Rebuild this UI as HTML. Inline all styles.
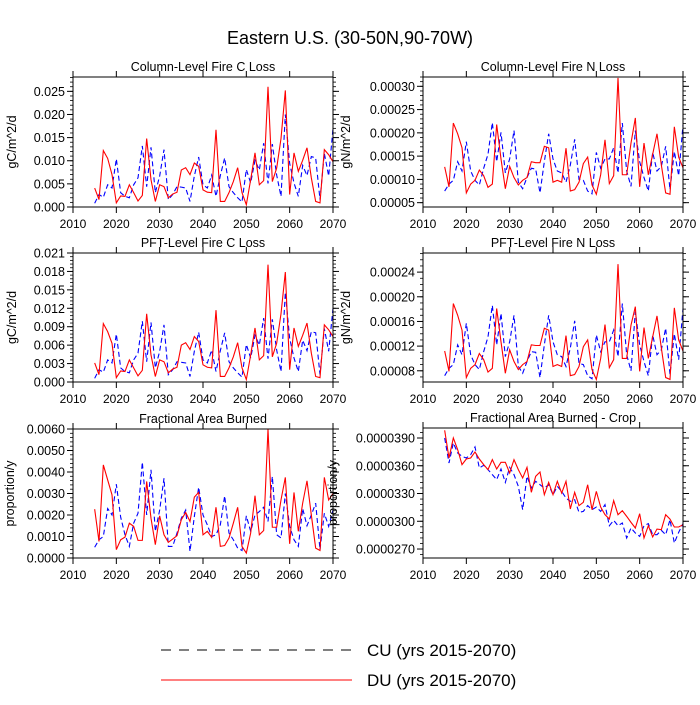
<!DOCTYPE html>
<html><head><meta charset="utf-8"><style>
body{margin:0;background:#fff}
svg text{font-family:"Liberation Sans",Arial,sans-serif;fill:#000}
</style></head><body>
<svg id="chart" width="700" height="700" viewBox="0 0 700 700" xmlns="http://www.w3.org/2000/svg">
<text x="350" y="44" text-anchor="middle" font-size="18">Eastern U.S. (30-50N,90-70W)</text>
<g id="panels"></g>
<g>
<line x1="161" y1="650" x2="352" y2="650" stroke="#000" stroke-width="1" stroke-dasharray="10,8"/>
<text x="367" y="656" font-size="17">CU (yrs 2015-2070)</text>
<line x1="161" y1="680" x2="352" y2="680" stroke="#ff0000" stroke-width="1"/>
<text x="367" y="686" font-size="17">DU (yrs 2015-2070)</text>
</g>
</svg>
<script>
const years = [];
for (let y = 2015; y <= 2070; y++) years.push(y);
const xTicks = [2010,2020,2030,2040,2050,2060,2070];

const colCBlue = [8,27,21,48,41,104,31,23,20,48,63,132,44,129,31,67,124,16,27,44,43,41,12,67,108,48,41,69,23,68,106,44,31,20,11,81,52,101,80,138,51,136,69,23,200,94,52,23,90,68,109,106,16,116,67,170];
const colCRed = [41,16,122,105,70,9,24,23,48,31,13,25,148,59,12,48,44,20,28,32,80,85,70,95,88,37,32,31,167,12,12,31,55,85,31,5,59,117,48,57,260,55,84,148,252,27,117,77,101,128,63,12,9,124,113,98];
const colNBlue = [75,90,98,138,118,181,118,98,88,124,154,222,138,201,114,144,205,94,80,104,124,122,71,138,198,144,118,114,94,131,186,100,98,75,69,158,124,144,144,168,114,221,118,85,205,138,104,75,158,118,128,171,78,160,108,217];
const colNRed = [127,84,221,198,168,71,90,98,120,108,83,90,218,144,80,128,104,88,98,104,138,136,136,171,168,94,98,94,167,75,78,94,134,148,88,68,110,185,91,108,318,110,110,178,232,84,178,110,154,198,131,71,68,213,148,125];
const pftCBlue = [6,20,16,36,31,78,23,17,15,36,47,99,33,97,23,50,93,12,20,33,32,31,9,50,81,36,31,52,17,51,80,33,23,15,8,61,39,76,60,104,38,102,52,17,146,71,39,17,68,51,82,80,12,87,50,120];
const pftCRed = [31,12,95,82,63,7,18,17,36,23,10,19,111,44,9,36,33,15,21,24,60,64,53,74,66,28,24,23,117,9,9,23,41,64,23,4,44,88,36,43,191,41,63,111,179,20,88,58,76,96,47,9,7,93,85,74];
const pftNBlue = [72,84,90,122,106,157,106,90,82,111,135,186,122,173,103,127,170,87,76,95,111,110,69,122,170,127,106,103,87,117,161,92,90,72,67,138,111,127,127,146,103,189,106,80,176,122,95,72,138,106,114,149,74,140,98,181];
const pftNRed = [112,79,189,170,146,69,84,90,108,98,78,84,181,127,76,114,95,82,90,95,122,121,121,149,146,87,90,87,137,72,74,87,119,130,82,66,100,155,85,98,253,100,100,154,184,79,150,100,135,169,117,69,66,182,130,112];
const areaBlue = [5,8.5,10,23,20,34.3,19,10.8,5.4,16.2,20.8,44.6,20,41,12.4,22.3,37.1,5.4,5.4,11.6,18.5,22.3,3.1,19.3,32.9,20,15.4,10,10.8,15.4,28.9,11.6,8.5,4.6,3.5,19.6,12.4,20,21.6,23.6,17,37.9,10.8,9.3,30,14.7,8.5,5.4,23,15,20,25.5,3.9,20.8,14.7,22.3];
const areaRed = [22.7,7.7,43.3,36.3,29.4,3.9,8.5,9.7,16.2,14.7,8.2,8.2,35.6,18.5,6.2,19.6,10.8,7.3,8.8,10.4,17.8,21.2,17,28.3,30.5,10.8,12.4,9.6,23.6,5.4,5.8,9.3,16.2,23.6,5.4,2.3,11.6,29,10.8,12.8,60,14.3,14.3,27,37.5,6.6,30.5,12.4,25.5,35.9,20,4.6,3.5,37.5,27,30];
const cropBlue = [39.0,36.3,38.46,37.38,37.02,36.84,37.2,38.03,35.76,36.05,35.58,35.04,34.5,35.65,34.2,35.83,35.04,33.77,31.25,34.86,33.59,34.32,33.95,33.59,33.95,32.87,33.77,33.23,32.51,32.15,32.33,30.96,31.07,31.69,31.25,31.54,31.07,31.79,29.52,30.1,29.52,29.81,28.19,29.27,28.73,28.37,29.52,29.74,28.55,28.55,29.02,28.55,30.17,27.65,28.8,29.74];
const cropRed = [39.83,36.84,39.0,37.74,36.12,36.73,36.84,37.49,36.73,36.12,35.58,36.66,35.65,36.37,36.37,35.22,36.66,35.58,34.68,35.83,33.13,34.86,35.32,32.87,34.2,32.87,34.32,33.05,34.32,31.33,33.13,31.69,32.05,33.95,31.25,33.23,31.54,30.71,30.24,32.23,30.71,31.14,30.53,29.88,29.27,30.82,28.19,29.52,28.3,29.16,29.09,30.71,30.24,29.38,29.38,29.63];

const yTicks1 = ["0.000","0.005","0.010","0.015","0.020","0.025"];
const yTicks2 = ["0.00005","0.00010","0.00015","0.00020","0.00025","0.00030"];
const yTicks3 = ["0.000","0.003","0.006","0.009","0.012","0.015","0.018","0.021"];
const yTicks4 = ["0.00008","0.00012","0.00016","0.00020","0.00024"];
const yTicks5 = ["0.0000","0.0010","0.0020","0.0030","0.0040","0.0050","0.0060"];
const yTicks6 = ["0.0000270","0.0000300","0.0000330","0.0000360","0.0000390"];

const NS = "http://www.w3.org/2000/svg";
const root = document.getElementById('panels');
function mk(tag, attrs, parent){const e=document.createElementNS(NS,tag);for(const k in attrs)e.setAttribute(k,attrs[k]);(parent||root).appendChild(e);return e;}

const panels = [
 {id:'column-c',title:'Column-Level Fire C Loss',yt:'gC/m^2/d',x0:73,top:77,bot:207,ymin:0,ymax:0.0281,scale:1e-4,blue:colCBlue,red:colCRed,ticks:yTicks1,minor:0.001,ytx:16},
 {id:'column-n',title:'Column-Level Fire N Loss',yt:'gN/m^2/d',x0:423,top:77,bot:207,ymin:0.0000407,ymax:0.00032,scale:1e-6,blue:colNBlue,red:colNRed,ticks:yTicks2,minor:0.00001,ytx:350},
 {id:'pft-c',title:'PFT-Level Fire C Loss',yt:'gC/m^2/d',x0:73,top:253,bot:382,ymin:0,ymax:0.021,scale:1e-4,blue:pftCBlue,red:pftCRed,ticks:yTicks3,minor:0.0006,ytx:16},
 {id:'pft-n',title:'PFT-Level Fire N Loss',yt:'gN/m^2/d',x0:423,top:253,bot:382,ymin:0.0000618,ymax:0.000271,scale:1e-6,blue:pftNBlue,red:pftNRed,ticks:yTicks4,minor:0.00001,ytx:350},
 {id:'area',title:'Fractional Area Burned',yt:'proportion/y',x0:73,top:429,bot:558,ymin:0,ymax:0.006,scale:1e-4,blue:areaBlue,red:areaRed,ticks:yTicks5,minor:0.0002,ytx:14},
 {id:'area-crop',title:'Fractional Area Burned - Crop',yt:'proportion/y',x0:423,top:428,bot:558,ymin:0.00002603,ymax:0.00004008,scale:1e-6,blue:cropBlue,red:cropRed,ticks:yTicks6,minor:0.0000006,ytx:337}
];
const W = 260;
panels.forEach(p=>{
  const g = mk('g',{});
  
  
  const xs = v => p.x0 + (v-2010)/60*W;
  const ys = v => p.bot - (v-p.ymin)/(p.ymax-p.ymin)*(p.bot-p.top);
  const t = mk('text',{x:p.x0+W/2,y:p.top-6,'text-anchor':'middle','font-size':'12.5'},g);
  t.textContent = p.title;
  
  
  // series
  [['blue','#0000ff','5,3'],['red','#ff0000',null]].forEach(([k,c,d])=>{
    const pts = p[k].map((v,i)=>xs(years[i]).toFixed(2)+','+ys(v*p.scale).toFixed(2)).join(' ');
    const a = {points:pts,fill:'none',stroke:c,'stroke-width':'1.1'};
    if(d) a['stroke-dasharray']=d;
    const l = mk('polyline',a,g);
    
    
  });
  const box = mk('rect',{x:p.x0,y:p.top,width:W,height:p.bot-p.top,fill:'none',stroke:'#000','stroke-width':'1'},g);
  
  
  // x ticks
  xTicks.forEach(v=>{
    const x = xs(v);
    mk('line',{x1:x,y1:p.bot,x2:x,y2:p.bot+6,stroke:'#000'},g);
    mk('line',{x1:x,y1:p.top,x2:x,y2:p.top-6,stroke:'#000'},g);
    const tl = mk('text',{x:x,y:p.bot+21,'text-anchor':'middle','font-size':'12'},g);
    tl.textContent = v;
    
    
  });
  // y ticks
  p.ticks.forEach(s=>{
    const v = parseFloat(s), y = ys(v);
    mk('line',{x1:p.x0,y1:y,x2:p.x0-6,y2:y,stroke:'#000'},g);
    mk('line',{x1:p.x0+W,y1:y,x2:p.x0+W+6,y2:y,stroke:'#000'},g);
    const tl = mk('text',{x:p.x0-8,y:y+4.5,'text-anchor':'end','font-size':'12.5'},g);
    tl.textContent = s;
    
    
  });
  const n0 = Math.ceil(p.ymin/p.minor-1e-6), n1 = Math.floor(p.ymax/p.minor+1e-6);
  for(let n=n0;n<=n1;n++){
    const y = ys(n*p.minor);
    mk('line',{x1:p.x0,y1:y,x2:p.x0-3,y2:y,stroke:'#000','stroke-width':'0.8'},g);
    mk('line',{x1:p.x0+W,y1:y,x2:p.x0+W+3,y2:y,stroke:'#000','stroke-width':'0.8'},g);
  }
  const cy = (p.top+p.bot)/2;
  const yt = mk('text',{x:p.ytx,y:cy,'text-anchor':'middle','font-size':'12.5',transform:'rotate(-90 '+p.ytx+' '+cy+')'},g);
  yt.textContent = p.yt;
  
  
});
</script>
</body></html>
